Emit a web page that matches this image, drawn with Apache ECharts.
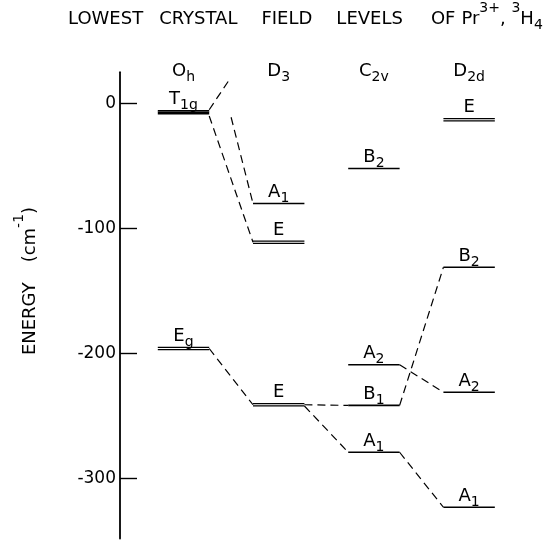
<!DOCTYPE html>
<html><head><meta charset="utf-8">
<script src="https://cdn.jsdelivr.net/npm/echarts@6/dist/echarts.min.js"></script>
<style>html,body{margin:0;padding:0;background:#fff}#c{width:555px;height:540px}</style>
</head><body><div id="c"></div>
<script>
// ---- data ----
const columnMain = ['O', 'D', 'C', 'D'];
const columnSub = ['h', '3', '2v', '2d'];

const levelColumn = [0, 0, 1, 1, 1, 2, 2, 2, 2, 3, 3, 3, 3];
const levelEnergy = [-7, -196, -80, -111, -241, -52, -209, -241.5, -279, -13, -131, -231, -323];
const levelLines = [3, 2, 1, 2, 2, 1, 1, 1, 1, 2, 1, 1, 1];
const levelMain = ['T', 'E', 'A', 'E', 'E', 'B', 'A', 'B', 'A', 'E', 'B', 'A', 'A'];
const levelSub = ['1g', 'g', '1', '', '', '2', '2', '1', '1', '', '2', '2', '1'];

// dashed correlation lines: [x (column units), energy] -> [x, energy]
const connX1 = [0.27, 0.27, 0.50, 0.27, 1.27, 1.27, 2.27, 2.27, 2.27];
const connE1 = [-5, -10, -11, -196, -241, -242, -241.5, -209, -279];
const connX2 = [0.49, 0.73, 0.73, 0.73, 1.73, 1.73, 2.73, 2.73, 2.73];
const connE2 = [20, -111, -80, -241, -241.5, -279, -131, -231, -323];

const yTicks = [0, -100, -200, -300];

// ---- styles ----
const FONT = 'DejaVu Sans';
const HW = 0.27;
const rich = {
  m: {fontFamily: FONT, fontSize: 18, lineHeight: 18, verticalAlign: 'top', color: '#000'},
  s: {fontFamily: FONT, fontSize: 14, lineHeight: 14, padding: [8, 0, 0, 0], verticalAlign: 'top', color: '#000'}
};
function lab(main, sub) { return '{m|' + main + '}' + (sub ? '{s|' + sub + '}' : ''); }

const titleRich = {
  m: {fontFamily: FONT, fontSize: 18, lineHeight: 18, padding: [9, 0, 0, 0], verticalAlign: 'top', color: '#000'},
  p: {fontFamily: FONT, fontSize: 14, lineHeight: 14, verticalAlign: 'top', color: '#000'},
  b: {fontFamily: FONT, fontSize: 14, lineHeight: 14, padding: [17, 0, 0, 0], verticalAlign: 'top', color: '#000'},
  g1: {width: 16, fontSize: 14, lineHeight: 14},
  g2: {width: 24, fontSize: 14, lineHeight: 14},
  g3: {width: 24, fontSize: 14, lineHeight: 14},
  g4: {width: 28, fontSize: 14, lineHeight: 14},
  g5: {width: 6, fontSize: 14, lineHeight: 14},
  gy: {width: 20, fontSize: 14, lineHeight: 14}
};

const chart = echarts.init(document.getElementById('c'), null, {renderer: 'canvas'});
chart.setOption({
  animation: false,
  backgroundColor: '#fff',
  grid: {left: 120, right: 0, top: 72.25, bottom: 1.5},
  xAxis: {type: 'value', min: -0.667, max: 3.902, show: false},
  yAxis: {
    type: 'value', min: -348, max: 25,
    axisLine: {show: true, onZero: false, lineStyle: {color: '#000', width: 1.8}},
    axisTick: {show: true, inside: true, length: 17, customValues: yTicks, lineStyle: {color: '#000', width: 1.4}},
    axisLabel: {customValues: yTicks, fontFamily: FONT, fontSize: 17, color: '#000', margin: 4},
    splitLine: {show: false}
  },
  graphic: [
    {type: 'text', x: 68, y: 1.7, style: {
      text: '{m|LOWEST}{g1| }{m|CRYSTAL}{g2| }{m|FIELD}{g3| }{m|LEVELS}{g4| }{m|OF}{g5| }{m|Pr}{p|3+}{m|, }{p|3}{m|H}{b|4}',
      rich: titleRich, align: 'left', verticalAlign: 'top'}},
    {type: 'text', x: 21, y: 281, rotation: Math.PI / 2, style: {
      text: '{m|ENERGY}{gy| }{m|(cm}{p|-1}{m|)}',
      rich: titleRich, align: 'center', verticalAlign: 'middle'}}
  ],
  series: [
    {
      type: 'custom', silent: true,
      data: connX1.map((x, i) => [x, connE1[i], connX2[i], connE2[i]]),
      renderItem(params, api) {
        const a = api.coord([api.value(0), api.value(1)]);
        const b = api.coord([api.value(2), api.value(3)]);
        return {type: 'line', shape: {x1: a[0], y1: a[1], x2: b[0], y2: b[1]},
          style: {stroke: '#000', lineWidth: 1.2, lineDash: [8, 5], fill: null}};
      }
    },
    {
      type: 'custom', silent: true,
      data: levelColumn.map((c, i) => [c, levelEnergy[i], levelLines[i], i]),
      renderItem(params, api) {
        const c = api.value(0), e = api.value(1), n = api.value(2), i = api.value(3);
        const p1 = api.coord([c - HW, e]), p2 = api.coord([c + HW, e]);
        const gap = n === 3 ? 1.5 : 2.4;
        const children = [];
        for (let k = 0; k < n; k++) {
          const off = (k - (n - 1) / 2) * gap;
          children.push({type: 'line', shape: {x1: p1[0], y1: p1[1] + off, x2: p2[0], y2: p2[1] + off},
            style: {stroke: '#000', lineWidth: n === 1 ? 1.7 : (n === 3 ? 1.5 : 1.3)}});
        }
        children.push({type: 'text', x: (p1[0] + p2[0]) / 2, y: p1[1] - (n - 1) / 2 * gap - 2,
          style: {text: lab(levelMain[i], levelSub[i]), rich: rich, align: 'center', verticalAlign: 'bottom'}});
        return {type: 'group', children: children};
      }
    },
    {
      type: 'custom', silent: true,
      data: columnMain.map((m, i) => [i, 0, i]),
      renderItem(params, api) {
        const i = api.value(2);
        const p = api.coord([api.value(0), 0]);
        return {type: 'text', x: p[0], y: 62,
          style: {text: lab(columnMain[i], columnSub[i]), rich: rich, align: 'center', verticalAlign: 'top'}};
      }
    }
  ]
});
</script>
</body></html>
